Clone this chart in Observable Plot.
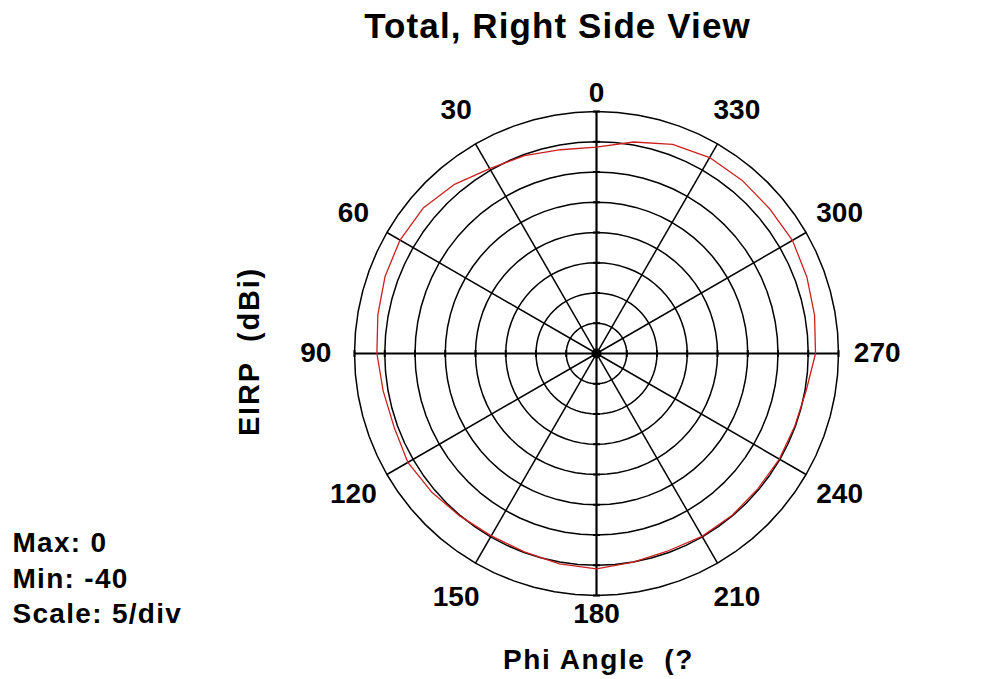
<!DOCTYPE html>
<html>
<head>
<meta charset="utf-8">
<script src="https://cdn.jsdelivr.net/npm/d3@7"></script>
<script src="https://cdn.jsdelivr.net/npm/@observablehq/plot@0.6"></script>
<style>
  body { margin: 0; background: #fff; }
  svg { display: block; }
</style>
</head>
<body>
<div id="chart"></div>
<script>
// ---- texts ----
const title = "Total, Right Side View";
const radialLabel = "EIRP  (dBi)";
const angleAxisLabel = "Phi Angle  (?";
const infoLines = ["Max: 0", "Min: -40", "Scale: 5/div"];

// ---- scale definition ----
const dbMax = 0;
const dbMin = -40;
const dbStep = 5;
const angleTicks = [0, 30, 60, 90, 120, 150, 180, 210, 240, 270, 300, 330];

// ---- series: total EIRP (dBi) vs Phi angle (deg) ----
const phi  = [0, 10, 20, 30, 40, 50, 60, 70, 80, 90, 100, 110, 120, 130, 140, 150, 160, 170,
              180, 190, 200, 210, 220, 230, 240, 250, 260, 270, 280, 290, 300, 310, 320, 330, 340, 350];
const eirp = [-5.9, -5.8, -5.2, -4.7, -3.5, -2.6, -2.5, -2.8, -3.3, -3.7, -4.2, -4.4, -4.0, -4.4, -4.9, -5.2, -5.1, -4.7,
              -4.4, -5.0, -5.3, -5.1, -5.1, -5.2, -5.1, -5.1, -4.8, -3.8, -3.4, -3.0, -2.6, -2.7, -2.6, -2.6, -3.2, -4.5];

// ---- layout ----
const W = 1006, H = 679;
const cx = 596, cy = 353, R = 242;
const font = "'Liberation Sans', Arial, sans-serif";

// polar helpers (angle measured counter-clockwise from top)
const rad = Math.PI / 180;
const norm = v => (v - dbMin) / (dbMax - dbMin);
const px = (a, r) => -r * Math.sin(a * rad);
const py = (a, r) => r * Math.cos(a * rad);

const ringValues = d3.range(dbMin + dbStep, dbMax + 1e-9, dbStep);
const ringPts = ringValues.flatMap(v =>
  d3.range(0, 361, 5).map(a => ({ring: v, x: px(a, norm(v)), y: py(a, norm(v))})));

const radials = angleTicks.map(a => ({a, axis: a % 90 === 0, x2: px(a, 1), y2: py(a, 1)}));

const tickHalf = 3.5 / R;
const ringTicks = ringValues.flatMap(v => [0, 90, 180, 270].map(a => {
  const r = norm(v), x = px(a, r), y = py(a, r);
  const horiz = a % 180 === 0;
  return horiz ? {x1: x - tickHalf, x2: x + tickHalf, y1: y, y2: y}
               : {x1: x, x2: x, y1: y - tickHalf, y2: y + tickHalf};
}));

const curve = phi.map((a, i) => ({x: px(a, norm(eirp[i])), y: py(a, norm(eirp[i]))}));
curve.push(curve[0]);

const labelK = a => (a % 180 === 0 ? 1.075 : 1.16);

const chart = Plot.plot({
  width: W,
  height: H,
  marginTop: 0, marginRight: 0, marginBottom: 0, marginLeft: 0,
  x: {domain: [-1, 1], range: [cx - R, cx + R], axis: null},
  y: {domain: [-1, 1], range: [cy + R, cy - R], axis: null},
  style: {fontFamily: font, background: "#fff", overflow: "visible"},
  marks: [
    Plot.line(ringPts, {x: "x", y: "y", z: "ring", stroke: "#000", strokeWidth: 1.5}),
    Plot.link(radials.filter(d => !d.axis), {x1: 0, y1: 0, x2: "x2", y2: "y2", stroke: "#000", strokeWidth: 1.5}),
    Plot.link(radials.filter(d => d.axis), {x1: 0, y1: 0, x2: "x2", y2: "y2", stroke: "#000", strokeWidth: 2.2}),
    Plot.link(ringTicks, {x1: "x1", y1: "y1", x2: "x2", y2: "y2", stroke: "#000", strokeWidth: 2}),
    Plot.line(curve, {x: "x", y: "y", stroke: "#cc1f1f", strokeWidth: 1.3}),
    Plot.dot([{x: px(0, norm(dbMin)), y: py(0, norm(dbMin))}], {x: "x", y: "y", r: 5, fill: "#000"}),
    Plot.text(angleTicks, {
      x: a => px(a, labelK(a)), y: a => py(a, labelK(a)), text: a => String(a),
      fontSize: 28, fontWeight: "bold", fill: "#000", textAnchor: "middle", lineAnchor: "middle"
    }),
    Plot.text([title], {frameAnchor: "top-left", dx: 557, dy: 37, textAnchor: "middle", lineAnchor: "bottom",
      fontSize: 35, fontWeight: "bold", fill: "#000"}),
    Plot.text([radialLabel], {frameAnchor: "top-left", dx: 249, dy: 351, rotate: -90, textAnchor: "middle",
      lineAnchor: "middle", fontSize: 29, fontWeight: "bold", fill: "#000"}),
    Plot.text([angleAxisLabel], {frameAnchor: "top-left", dx: 598, dy: 668, textAnchor: "middle", lineAnchor: "bottom",
      fontSize: 28, fontWeight: "bold", fill: "#000"}),
    Plot.text(infoLines, {frameAnchor: "top-left", text: d => d, textAnchor: "start", lineAnchor: "bottom",
      fontSize: 28, fontWeight: "bold", fill: "#000"})
  ]
});

document.getElementById("chart").appendChild(chart);

// position info lines (one per row) and letter spacing for wide labels
const svg = d3.select(chart);
const infoX = 12;
const baselines = [551, 587, 622];
svg.selectAll("text").each(function() {
  const t = this.textContent;
  const i = infoLines.indexOf(t);
  if (i >= 0) {
    d3.select(this).attr("transform", `translate(${infoX},${baselines[i]})`).attr("letter-spacing", "1.3px");
  }
  if (t === title) d3.select(this).attr("letter-spacing", "1.1px");
  if (t === radialLabel) d3.select(this).attr("letter-spacing", "1.8px");
  if (t === angleAxisLabel) d3.select(this).attr("letter-spacing", "1.6px");
});
</script>
</body>
</html>
